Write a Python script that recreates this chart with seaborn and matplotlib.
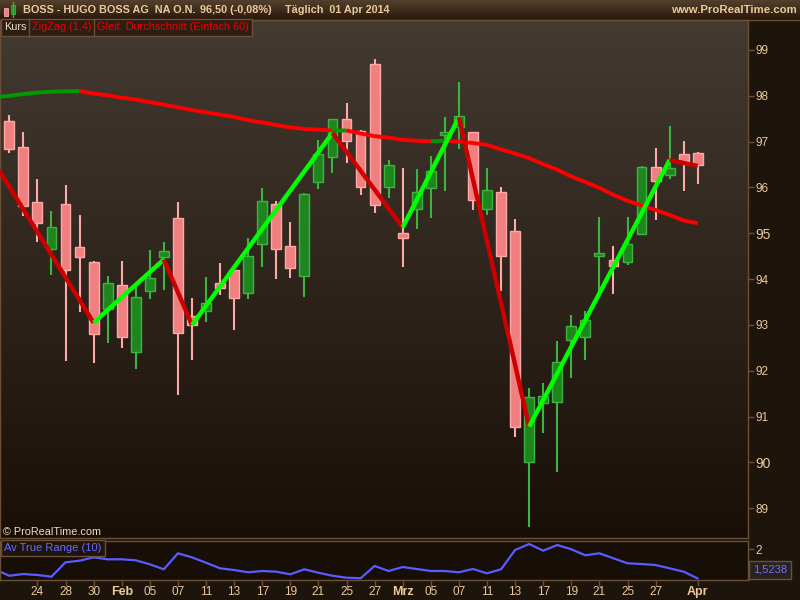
import numpy as np
import pandas as pd
import matplotlib
matplotlib.use("Agg")
import matplotlib.pyplot as plt
from matplotlib.colors import LinearSegmentedColormap
from matplotlib.patches import Rectangle
import seaborn as sns

sns.set_style("dark")
plt.rcParams["font.family"] = ["Liberation Sans", "DejaVu Sans"]

# trading days 22 Jan - 01 Apr 2014
dates = pd.bdate_range("2014-01-22", "2014-04-01")

opens = [97.44, 96.88, 95.68, 94.66, 95.65, 94.70, 94.37, 93.34, 93.87, 92.40,
         93.75, 94.48, 95.33, 93.19, 93.30, 93.92, 94.21, 93.69, 94.76, 95.65,
         94.72, 94.06, 96.11, 96.66, 97.49, 97.23, 98.69, 96.00, 95.01, 95.52,
         95.98, 97.14, 97.33, 97.20, 95.52, 95.90, 95.04, 90.00, 91.29, 91.33,
         92.68, 92.74, 94.50, 94.41, 94.38, 94.99, 96.45, 96.28, 96.73, 96.75]
highs = [97.58, 97.20, 96.19, 95.49, 96.05, 95.40, 94.40, 94.07, 94.40, 93.84,
         94.64, 94.81, 95.68, 93.59, 94.04, 94.35, 94.25, 94.89, 95.99, 95.70,
         95.24, 95.87, 97.04, 97.50, 97.85, 97.25, 98.80, 96.60, 96.43, 96.40,
         96.69, 97.54, 98.30, 97.22, 96.42, 96.01, 95.31, 91.62, 91.73, 92.64,
         93.22, 93.31, 95.36, 94.72, 95.36, 96.47, 96.86, 97.34, 97.01, 96.77]
lows = [96.75, 95.38, 94.80, 94.08, 92.22, 93.28, 92.16, 92.61, 92.50, 92.05,
        93.57, 93.76, 91.47, 92.24, 93.07, 93.65, 92.89, 93.56, 94.27, 94.00,
        94.03, 93.60, 95.96, 96.31, 96.54, 95.84, 95.45, 95.76, 94.26, 95.09,
        95.34, 95.93, 96.83, 95.51, 95.41, 93.74, 90.56, 88.60, 90.65, 89.80,
        91.85, 92.24, 93.70, 93.68, 94.31, 94.97, 95.28, 96.19, 95.93, 96.08]
closes = [96.85, 95.60, 95.22, 95.14, 94.21, 94.48, 92.80, 93.92, 92.74, 93.61,
          94.02, 94.61, 92.82, 93.01, 93.49, 93.81, 93.58, 94.50, 95.70, 94.65,
          94.24, 95.85, 96.72, 97.49, 97.01, 96.00, 95.61, 96.48, 94.89, 95.90,
          96.36, 97.21, 97.55, 95.72, 95.94, 94.50, 90.78, 91.42, 91.44, 92.19,
          92.98, 93.10, 94.57, 94.29, 94.76, 96.45, 96.15, 96.42, 96.57, 96.50]

# indicator series start one bar before the first visible candle
ma60 = [97.97, 98.00, 98.04, 98.07, 98.09, 98.10, 98.105, 98.05, 98.01, 97.96,
        97.92, 97.86, 97.81, 97.75, 97.69, 97.64, 97.59, 97.54, 97.47, 97.42,
        97.36, 97.31, 97.28, 97.26, 97.24, 97.245, 97.18, 97.12, 97.09, 97.04,
        97.02, 97.01, 97.02, 97.00, 96.97, 96.93, 96.83, 96.74, 96.64, 96.51,
        96.39, 96.24, 96.12, 95.99, 95.84, 95.71, 95.61, 95.51, 95.40, 95.28, 95.22]
atr10 = [1.670, 1.569, 1.597, 1.581, 1.553, 1.788, 1.814, 1.869, 1.837, 1.837,
         1.821, 1.755, 1.674, 1.935, 1.869, 1.781, 1.690, 1.662, 1.625, 1.646,
         1.635, 1.592, 1.674, 1.618, 1.569, 1.537, 1.527, 1.728, 1.646, 1.711,
         1.679, 1.646, 1.646, 1.625, 1.679, 1.608, 1.674, 1.989, 2.086, 1.977,
         2.070, 2.000, 1.902, 1.935, 1.853, 1.772, 1.760, 1.744, 1.690, 1.635, 1.5238]

zz_bar = [-1, 6, 11, 13, 23, 28, 32, 37, 47, 49]
zz_val = [96.51, 93.05, 94.43, 93.00, 97.19, 95.13, 97.53, 90.78, 96.60, 96.47]

tick_pos = [2, 4, 6, 8, 10, 12, 14, 16, 18, 20, 22, 24, 26, 28, 30, 32, 34, 36,
            38, 40, 42, 44, 46, 49]
tick_lbl = ["24", "28", "30", "Feb", "05", "07", "11", "13", "17", "19", "21",
            "25", "27", "Mrz", "05", "07", "11", "13", "17", "19", "21", "25",
            "27", "Apr"]
months = ["Feb", "Mrz", "Apr"]

BG = "#1d140c"
BORDER = "#6b5035"
TXT = "#ecc99a"
PINK_FILL, PINK_EDGE = "#f08080", "#ffa8a8"
GREEN_FILL, GREEN_EDGE = "#1f861f", "#3db43d"

df = pd.DataFrame({"date": dates, "open": opens, "high": highs,
                   "low": lows, "close": closes})
df["x"] = np.arange(len(df))
ext_x = np.arange(-1, len(df))


def box(x0, y0, x1, y1):
    return [x0 / 800, 1 - y1 / 600, (x1 - x0) / 800, (y1 - y0) / 600]


def draw_runs(axis, xs, ys, up_col, down_col, lw, z):
    xs, ys = np.asarray(xs, float), np.asarray(ys, float)
    d = np.sign(np.diff(ys))
    start = 0
    for k in range(1, len(d) + 1):
        if k == len(d) or d[k] != d[start]:
            sl = slice(start, k + 1)
            sns.lineplot(x=xs[sl], y=ys[sl], ax=axis, sort=False, estimator=None,
                         color=up_col if d[start] > 0 else down_col, lw=lw,
                         zorder=z, solid_capstyle="butt")
            start = k


fig = plt.figure(figsize=(8, 6), dpi=100, facecolor=BG)
ax = fig.add_axes(box(0, 20, 748, 538))
ax_atr = fig.add_axes(box(0, 541, 748, 580))
ax_head = fig.add_axes(box(0, 0, 800, 19))

# --- main panel background
grad = np.linspace(0, 1, 256).reshape(-1, 1)
cmap_main = LinearSegmentedColormap.from_list("m", ["#190f08", "#433a31"])
ax.imshow(grad, extent=[0, 1, 0, 1], transform=ax.transAxes, cmap=cmap_main,
          aspect="auto", origin="lower", zorder=0)

# --- candles
up = df["close"] >= df["open"]
for mask, fill, edge in [(up, GREEN_FILL, GREEN_EDGE), (~up, PINK_FILL, PINK_EDGE)]:
    d = df[mask]
    ax.vlines(d["x"], d["low"], d["high"], color=edge, lw=1.5, zorder=2)
    lo = np.minimum(d["open"], d["close"])
    h = np.maximum((d["open"] - d["close"]).abs(), 0.05)
    ax.bar(d["x"], h, bottom=lo, width=0.70, color=fill, edgecolor=edge,
           lw=1.0, zorder=3)

# --- moving average and zigzag
draw_runs(ax, ext_x, ma60, "#009a00", "#ff0000", 2.8, 4)
draw_runs(ax, zz_bar, zz_val, "#00ff00", "#cc0000", 3.2, 5)

x_lo = -9.3 / 14.05
x_hi = (748 - 9.3) / 14.05
ax.set_xlim(x_lo, x_hi)
ax.set_ylim(99 - 488 / 45.83, 99 + 30 / 45.83)
ax.set_xticks([])
ax.set_xlabel("")
ax.set_ylabel("")
ax.yaxis.tick_right()
ax.set_yticks(range(89, 100))
ax.set_yticklabels([str(v) for v in range(89, 100)])
ax.tick_params(axis="y", right=True, length=4, width=1, color=BORDER,
               labelcolor=TXT, labelsize=8.5, pad=1.5)
for lab in ax.get_yticklabels():
    if lab.get_text() in ("95", "90"):
        lab.set_fontsize(10)
for sp in ax.spines.values():
    sp.set_color(BORDER)
    sp.set_linewidth(1)
ax.grid(False)

# --- ATR panel
ax_atr.set_facecolor("#170e07")
sns.lineplot(x=ext_x, y=atr10, ax=ax_atr, color="#5b5bff", lw=1.6,
             sort=False, estimator=None)
ax_atr.set_xlim(x_lo, x_hi)
ax_atr.set_ylim(1.5238 - 1.5 / 61.32, 2 + 8.3 / 61.32)
ax_atr.set_xlabel("")
ax_atr.set_ylabel("")
ax_atr.yaxis.tick_right()
ax_atr.set_yticks([1.5238, 2])
ax_atr.set_yticklabels(["", "2"])
ax_atr.tick_params(axis="y", right=True, length=4, width=1, color=BORDER,
                   labelcolor=TXT, labelsize=8.5, pad=1.5)
ax_atr.set_xticks(tick_pos)
ax_atr.set_xticklabels(tick_lbl)
ax_atr.tick_params(axis="x", bottom=True, length=4, width=1, color=BORDER,
                   labelcolor=TXT, labelsize=8.5, pad=0.5)
for lab in ax_atr.get_xticklabels():
    if lab.get_text() in months:
        lab.set_fontsize(9)
        lab.set_fontweight("bold")
for sp in ax_atr.spines.values():
    sp.set_color(BORDER)
    sp.set_linewidth(1)
ax_atr.grid(False)

# --- header bar
cmap_head = LinearSegmentedColormap.from_list("h", ["#2a1a0c", "#54402c"])
ax_head.imshow(grad, extent=[0, 800, 19, 0], cmap=cmap_head, aspect="auto",
               origin="lower")
ax_head.set_xlim(0, 800)
ax_head.set_ylim(19, 0)
ax_head.axis("off")
ax_head.add_patch(Rectangle((4, 8), 4, 8, facecolor=PINK_FILL, edgecolor=PINK_EDGE, lw=0.6))
ax_head.plot([13, 13], [2, 17], color=GREEN_EDGE, lw=1)
ax_head.add_patch(Rectangle((11, 5), 4, 9, facecolor=GREEN_FILL, edgecolor=GREEN_EDGE, lw=0.6))
fig.add_artist(plt.Line2D([0, 1], [1 - 19.5 / 600] * 2, color=BORDER, lw=1))


def ftext(x, y, s, **kw):
    fig.text(x / 800, 1 - y / 600, s, va="center", **kw)


ftext(23, 10, "BOSS - HUGO BOSS AG  NA O.N.", color=TXT, fontsize=7.8, fontweight="bold")
ftext(200, 10, "96,50 (-0,08%)", color=TXT, fontsize=7.8, fontweight="bold")
ftext(285, 10, "Täglich  01 Apr 2014", color=TXT, fontsize=7.8, fontweight="bold")
ftext(797, 10, "www.ProRealTime.com", color=TXT, fontsize=8.2, fontweight="bold", ha="right")

lbl_box = dict(boxstyle="square,pad=0.3", facecolor="#2b1f15", edgecolor=BORDER, lw=1)
ftext(4, 27.5, "Kurs", color="#eedcc4", fontsize=7.8, bbox=lbl_box)
ftext(32, 27.5, "ZigZag (1,4)", color="#ee0000", fontsize=7.8, bbox=lbl_box)
ftext(97, 27.5, "Gleit. Durchschnitt (Einfach 60)", color="#ee0000", fontsize=7.8, bbox=lbl_box)
ftext(3, 532, "© ProRealTime.com", color="#eedcc4", fontsize=7.8)
ftext(4, 548, "Av True Range (10)", color="#6a6aff", fontsize=8,
      bbox=dict(boxstyle="square,pad=0.3", facecolor="#1d140c", edgecolor=BORDER, lw=1))
ftext(753, 570, "1,5238", color="#7070ff", fontsize=8,
      bbox=dict(boxstyle="square,pad=0.35", facecolor="#2a2220", edgecolor=BORDER, lw=1))

fig.savefig("out.png", dpi=100, facecolor=BG)
